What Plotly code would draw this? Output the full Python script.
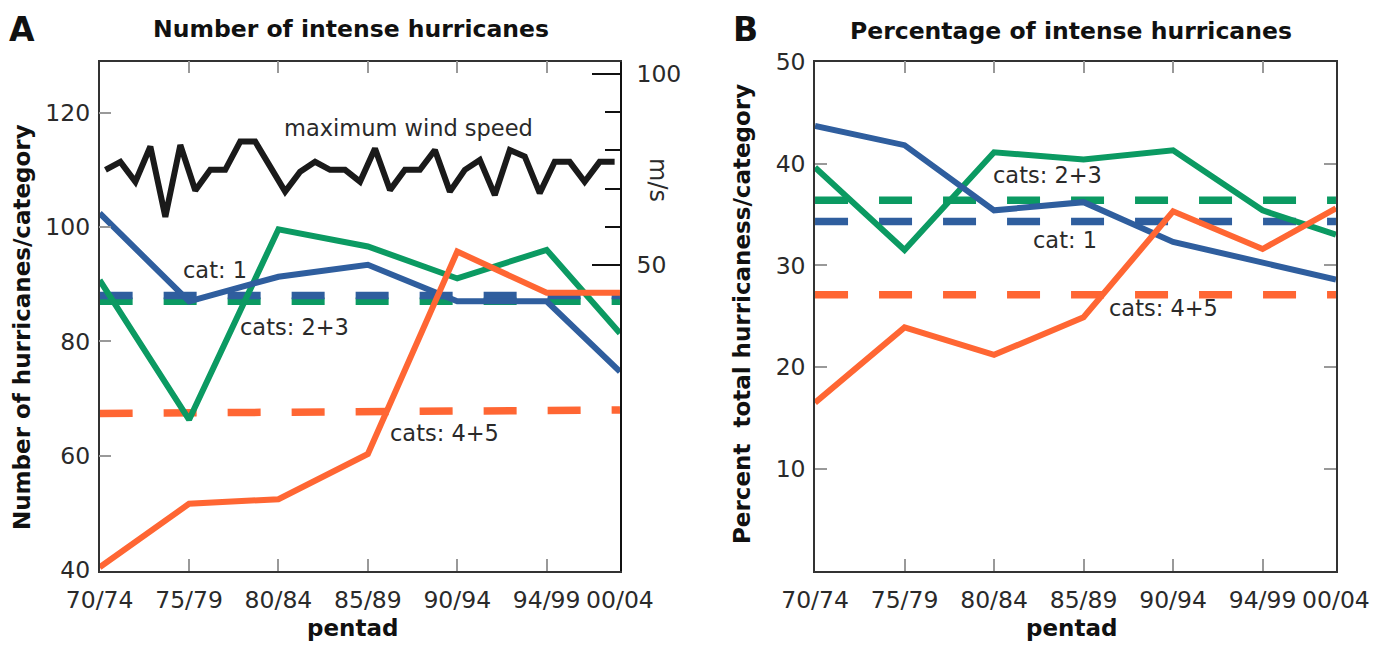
import plotly.graph_objects as go

# ---------------- data ----------------
pentad_labels = ["70/74", "75/79", "80/84", "85/89", "90/94", "94/99", "00/04"]
pentad_pos = [0, 1, 2, 3, 4, 5, 5.82]

# Panel A: number of hurricanes per category
cat1_A = [102.4, 87.0, 91.3, 93.4, 87.0, 87.0, 74.7]
cat23_A = [90.7, 66.3, 99.6, 96.6, 91.0, 96.0, 81.4]
cat45_A = [40.5, 51.6, 52.4, 60.3, 95.7, 88.5, 88.5]
mean_cat1_A = [88.0, 88.0]
mean_cat23_A = [87.0, 87.0]
mean_cat45_A = [67.4, 68.0]

# maximum wind speed (m/s), yearly
wind_years = list(range(1970, 2005))
wind_speed = [74.9, 77.0, 71.8, 81.0, 62.6, 81.4, 69.5, 74.9, 74.9, 82.3,
              82.3, 75.7, 69.2, 74.4, 77.0, 74.9, 74.9, 71.8, 80.5, 69.6,
              74.9, 74.9, 80.1, 69.2, 74.9, 77.5, 68.3, 80.1, 78.4, 68.8,
              77.0, 77.0, 71.8, 77.0, 77.0]

# Panel B: percentage of total hurricanes per category
cat1_B = [43.7, 41.8, 35.4, 36.2, 32.3, 30.3, 28.6]
cat23_B = [39.6, 31.5, 41.1, 40.4, 41.3, 35.4, 33.0]
cat45_B = [16.5, 23.9, 21.2, 24.9, 35.3, 31.6, 35.6]
mean_cat1_B = [34.3, 34.3]
mean_cat23_B = [36.4, 36.4]
mean_cat45_B = [27.1, 27.1]

left_ticks_A = [40, 60, 80, 100, 120]
right_ticks_A = [50, 100]
right_minor_A = [60, 70, 80, 90]
left_ticks_B = [10, 20, 30, 40, 50]

# ---------------- styles ----------------
BLUE = "#2f5e9e"
GREEN = "#0b9a62"
ORANGE = "#ff6633"
BLACK = "#1a1a1a"
FONT = "DejaVu Sans, Liberation Sans, Arial, sans-serif"
W, H = 1391, 645
SOLID_W = 6
DASH_W = 7.5
DASH = "33px,31px"

def px(x):
    return x / W

def py(y):
    return 1 - y / H

fig = go.Figure()

x_ends = [pentad_pos[0], pentad_pos[-1]]

# Panel A
for vals, col in [(mean_cat45_A, ORANGE), (mean_cat23_A, GREEN), (mean_cat1_A, BLUE)]:
    fig.add_trace(go.Scatter(x=x_ends, y=vals, mode="lines", xaxis="x", yaxis="y",
                             line=dict(color=col, width=DASH_W, dash=DASH)))
for vals, col in [(cat23_A, GREEN), (cat1_A, BLUE), (cat45_A, ORANGE)]:
    fig.add_trace(go.Scatter(x=pentad_pos, y=vals, mode="lines", xaxis="x", yaxis="y",
                             line=dict(color=col, width=SOLID_W)))
fig.add_trace(go.Scatter(x=wind_years, y=wind_speed, mode="lines", xaxis="x3", yaxis="y2",
                         line=dict(color=BLACK, width=SOLID_W)))

# Panel B
for vals, col in [(mean_cat45_B, ORANGE), (mean_cat23_B, GREEN), (mean_cat1_B, BLUE)]:
    fig.add_trace(go.Scatter(x=x_ends, y=vals, mode="lines", xaxis="x4", yaxis="y4",
                             line=dict(color=col, width=DASH_W, dash=DASH)))
for vals, col in [(cat23_B, GREEN), (cat1_B, BLUE), (cat45_B, ORANGE)]:
    fig.add_trace(go.Scatter(x=pentad_pos, y=vals, mode="lines", xaxis="x4", yaxis="y4",
                             line=dict(color=col, width=SOLID_W)))

tickfont = dict(family=FONT, size=23.5, color="#2a2a2a")
xr = [-0.0005, pentad_pos[-1] + 0.0005]

common_x = dict(range=xr, tickvals=pentad_pos, ticktext=pentad_labels, ticks="inside",
                ticklen=12, tickwidth=1.5, tickcolor="#999999", showline=True,
                linecolor="#333333", linewidth=1.5, mirror="ticks", showgrid=False,
                zeroline=False, tickfont=tickfont, ticklabelstandoff=7, fixedrange=True,
                automargin=False)

fig.update_layout(
    template="none",
    width=W, height=H, margin=dict(l=0, r=0, t=0, b=0, pad=0, autoexpand=False),
    paper_bgcolor="white", plot_bgcolor="white", showlegend=False,
    hovermode=False,
    xaxis=dict(domain=[px(99.6), px(620)], anchor="y", **common_x),
    yaxis=dict(domain=[py(570.7), py(61.7)], range=[39.9, 128.9], tickvals=left_ticks_A,
               ticks="inside", ticklen=12, tickwidth=1.5, tickcolor="#999999",
               showline=True, linecolor="#333333", linewidth=1.5, mirror=True,
               showgrid=False, zeroline=False, tickfont=tickfont, ticklabelstandoff=3,
               anchor="x", automargin=False),
    yaxis2=dict(overlaying="y", side="right", anchor="x", range=[-30.0, 103.2],
                tickvals=right_ticks_A, ticks="inside", ticklen=28, tickwidth=1.5,
                tickcolor="#111111", showline=True, linecolor="#111111", linewidth=1.5,
                minor=dict(tickvals=right_minor_A, ticks="inside", ticklen=15,
                           tickwidth=1.5, tickcolor="#111111"),
                showgrid=False, zeroline=False, tickfont=tickfont, ticklabelstandoff=10,
                automargin=False),
    xaxis3=dict(overlaying="x", anchor="y2", range=[1969.61, 2004.36], visible=False,
                automargin=False),
    xaxis4=dict(domain=[px(815), px(1336)], anchor="y4", **common_x),
    yaxis4=dict(domain=[py(570.7), py(61.7)], range=[0, 50], tickvals=left_ticks_B,
                ticks="inside", ticklen=12, tickwidth=1.5, tickcolor="#999999",
                showline=True, linecolor="#333333", linewidth=1.5, mirror="ticks",
                showgrid=False, zeroline=False, tickfont=tickfont, ticklabelstandoff=3,
                anchor="x4", automargin=False),
)

def ann(text, x, y, size=22.5, bold=False, angle=0, color="#2a2a2a", xanchor="center"):
    t = "<b>%s</b>" % text if bold else text
    fig.add_annotation(text=t, x=px(x), y=py(y), xref="paper", yref="paper",
                       showarrow=False, textangle=angle, xanchor=xanchor, yanchor="middle",
                       font=dict(family=FONT, size=size, color=color))

# panel letters and titles
ann("A", 22, 30, size=33, bold=True, color="#111111")
ann("B", 745, 30, size=33, bold=True, color="#111111")
ann("Number of intense hurricanes", 350.6, 29.5, size=23.5, bold=True, color="#111111")
ann("Percentage of intense hurricanes", 1071, 31, size=23.5, bold=True, color="#111111")

# axis titles
ann("Number of hurricanes/category", 22, 327, size=23, bold=True, angle=-90, color="#111111")
ann("Percent  total hurricaness/category", 742, 314, size=23, bold=True, angle=-90,
    color="#111111")
ann("pentad", 352, 628, size=23, bold=True, color="#111111")
ann("pentad", 1071, 628, size=23, bold=True, color="#111111")
ann("m/s", 658, 180, size=24, angle=90, color="#2a2a2a")

# in-plot labels
ann("maximum wind speed", 408, 128)
ann("cat: 1", 215, 270)
ann("cats: 2+3", 294, 327)
ann("cats: 4+5", 445, 433)
ann("cats: 2+3", 1047.6, 175)
ann("cat: 1", 1065, 240)
ann("cats: 4+5", 1163, 308)

fig.write_html("out.html", config={"displayModeBar": False},
               post_script="document.body.style.margin='0px';document.body.style.padding='0px';")
